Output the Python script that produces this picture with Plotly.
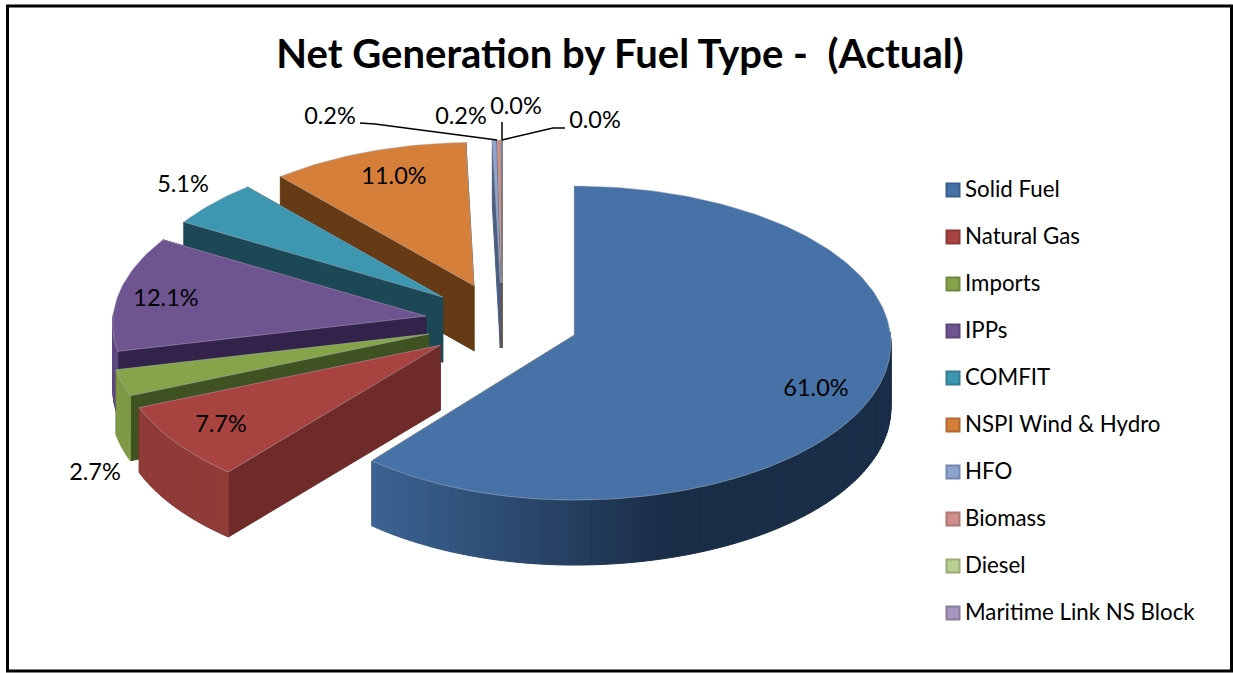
import math
import plotly.graph_objects as go

# ---- data ----
categories = ["Solid Fuel", "Natural Gas", "Imports", "IPPs", "COMFIT", "NSPI Wind & Hydro",
              "HFO", "Biomass", "Diesel", "Maritime Link NS Block"]
values = [61.0, 7.7, 2.7, 12.1, 5.1, 11.0, 0.2, 0.2, 0.02, 0.02]
title_text = "Net Generation by Fuel Type -  (Actual)"

# ---- styles ----
top_colors = ["#4672A8", "#A84340", "#86A44A", "#6F5492", "#3D97B0", "#D67F3A", "#8CA5CF", "#D18F8C", "#B9CF93", "#A796BD"]
edge_colors = ["#1B2E49", "#6E2B29", "#3F5322", "#33234A", "#1C4856", "#653A14", "#4A5E80", "#7A4A48", "#5F7040", "#5A4D70"]
arc_light = ["#3D6595", "#8F3B37", "#7F9A47", "#5F4880", "#2F7F96", "#B86C30", "#7A8FB0", "#B07A78", "#9DB27C", "#8E7FA2"]
arc_dark = ["#1A2D47", "#8F3B37", "#7F9A47", "#5F4880", "#2F7F96", "#B86C30", "#7A8FB0", "#B07A78", "#9DB27C", "#8E7FA2"]
legend_line = ["#3A5E8C", "#8C3836", "#6E883C", "#5C467A", "#327D92", "#B2692F", "#7488AC", "#AE7674", "#99AC7A", "#8A7C9D"]

W, H = 1233, 673
CX, CY = 502.0, 322.0     # un-exploded centre of the pie on the page
RY = 156.6                # tilted ellipse radius, vertical
PX, PY = 77.0, 39.0       # explosion offset
K = 0.05                  # perspective
DEPTH = 65.0
FONT = "Lato"


def rim(theta, ay, is_main):
    """Offset of a rim point from a slice apex; slices further back are drawn a little smaller."""
    s, c = math.sin(theta), math.cos(theta)
    den = 1 + K * c
    rx = 305 + 0.25 * (ay - 285)
    if is_main:
        rx = 316 if s >= 0 else 306
    ry = RY * (1 + (ay - 335) * 0.0008)
    return rx * s / den, -ry * c / den


def hex_mix(a, b, t):
    pa = [int(a[i:i + 2], 16) for i in (1, 3, 5)]
    pb = [int(b[i:i + 2], 16) for i in (1, 3, 5)]
    return "#%02X%02X%02X" % tuple(round(x + (y - x) * t) for x, y in zip(pa, pb))


def poly(xs, ys, color, line=None, width=1.0):
    return go.Scatter(x=xs + xs[:1], y=ys + ys[:1], mode="lines", fill="toself", fillcolor=color,
                      line=dict(color=line or color, width=width), hoverinfo="skip", showlegend=False)


fig = go.Figure()
# angular spans derived from the values
starts, acc = [], 0.0
total = sum(values)
for v in values:
    starts.append(acc / total * 2 * math.pi)
    acc += v

order = [9, 8, 7, 6, 5, 4, 3, 2, 1, 0]
for i in order:
    a0 = starts[i]
    a1 = a0 + values[i] / total * 2 * math.pi
    mid = (a0 + a1) / 2
    ax = CX + PX * math.sin(mid)
    ay = CY - PY * math.cos(mid)
    n = max(2, int(values[i] * 3))
    angles = [a0 + (a1 - a0) * j / n for j in range(n + 1)]
    offs = [rim(t, ay, i == 0) for t in angles]
    pts = [(ax + o[0], ay + o[1]) for o in offs]
    # radial walls, hidden parts are painted over by the top face
    fig.add_trace(poly([ax, pts[0][0], pts[0][0], ax], [ay, pts[0][1], pts[0][1] + DEPTH, ay + DEPTH], edge_colors[i]))
    fig.add_trace(poly([ax, pts[-1][0], pts[-1][0], ax], [ay, pts[-1][1], pts[-1][1] + DEPTH, ay + DEPTH], edge_colors[i]))
    # outer wall with a horizontal gradient, only where it faces the viewer
    for j in range(n):
        if math.cos((angles[j] + angles[j + 1]) / 2) > 0.02:
            continue
        (x0, y0), (x1, y1) = pts[j], pts[j + 1]
        t = min(1.0, max(0.0, ((x0 + x1) / 2 - (ax - 210)) / 300))
        col = hex_mix(arc_light[i], arc_dark[i], t)
        fig.add_trace(poly([x0, x1, x1, x0], [y0, y1, y1 + DEPTH, y0 + DEPTH], col))
    # top face
    fig.add_trace(poly([ax] + [p[0] for p in pts], [ay] + [p[1] for p in pts], top_colors[i], line="#A8B0BC", width=0.5))

# data labels: text comes from the values, placement is style
label_x = [816, 221, 95, 166, 183, 394, 330, 461, 516, 595]
label_y = [390, 426, 474, 300, 186, 178, 118, 118, 108, 122]
fig.add_trace(go.Scatter(x=label_x, y=label_y, mode="text", text=[f"{v:.1f}%" for v in values],
                         textfont=dict(family=FONT, size=23.5, color="#000000"), hoverinfo="skip", showlegend=False))

# legend
legend_x, legend_text_x = 953, 965
legend_y0, legend_step = 190, 47
legend_rows = [legend_y0 + legend_step * k for k in range(len(categories))]
fig.add_trace(go.Scatter(x=[legend_x] * len(categories), y=legend_rows, mode="markers",
                         marker=dict(symbol="square", size=13, color=top_colors, line=dict(color=legend_line, width=2)),
                         hoverinfo="skip", showlegend=False))
fig.add_trace(go.Scatter(x=[legend_text_x] * len(categories), y=[r + 1 for r in legend_rows], mode="text", text=categories,
                         textposition="middle right", textfont=dict(family=FONT, size=22.3, color="#000000"),
                         hoverinfo="skip", showlegend=False))

leaders = ["M 360 123 L 375 124 L 497 140", "M 502 122 L 502 140", "M 565 128 L 553 128 L 502 140"]
shapes = [dict(type="path", path=p, line=dict(color="#000000", width=1.5), layer="above") for p in leaders]
shapes.append(dict(type="rect", xref="x", yref="y", x0=7.5, y0=6, x1=1231.5, y1=671,
                   line=dict(color="#000000", width=3), layer="above"))

fig.update_layout(
    width=W, height=H, margin=dict(l=0, r=0, t=0, b=0), paper_bgcolor="#FFFFFF", plot_bgcolor="#FFFFFF",
    title=dict(text=title_text, x=620 / W, xanchor="center", y=1 - 54 / H, yanchor="middle",
               font=dict(family=FONT, size=40, color="#000000", weight="bold")),
    xaxis=dict(range=[0, W], visible=False, fixedrange=True),
    yaxis=dict(range=[H, 0], visible=False, fixedrange=True),
    shapes=shapes, showlegend=False,
)
fig.write_html("out.html", config=dict(displayModeBar=False),
               post_script="document.body.style.margin='0';document.body.style.overflow='hidden';")
